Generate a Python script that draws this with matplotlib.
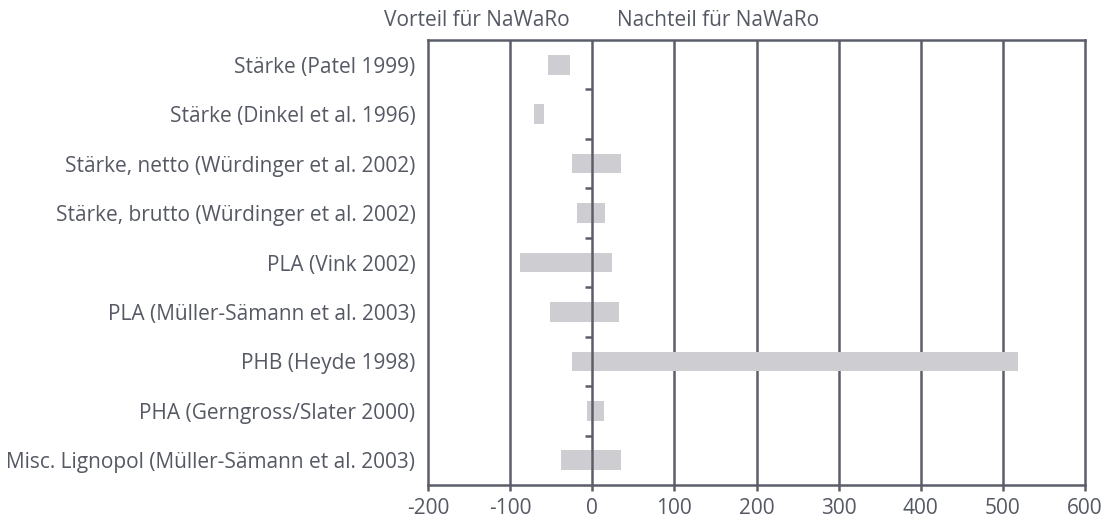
import matplotlib
matplotlib.use("Agg")
import matplotlib.pyplot as plt

categories = [
    "Stärke (Patel 1999)",
    "Stärke (Dinkel et al. 1996)",
    "Stärke, netto (Würdinger et al. 2002)",
    "Stärke, brutto (Würdinger et al. 2002)",
    "PLA (Vink 2002)",
    "PLA (Müller-Sämann et al. 2003)",
    "PHB (Heyde 1998)",
    "PHA (Gerngross/Slater 2000)",
    "Misc. Lignopol (Müller-Sämann et al. 2003)",
]
low = [-54, -71, -25, -18, -88, -51, -25, -7, -38]
high = [-27, -59, 35, 16, 24, 32, 519, 14, 35]
xticks = [-200, -100, 0, 100, 200, 300, 400, 500, 600]
header_left = "Vorteil für NaWaRo"
header_right = "Nachteil für NaWaRo"

LINE = "#5b5e69"
TEXT = "#555963"
BAR = "#cdcdd2"
FS = 15

plt.rcParams['font.family'] = ['Open Sans', 'DejaVu Sans']
fig = plt.figure(figsize=(11.11, 5.19), dpi=100)
ax = fig.add_axes([428/1111, 1-485/519, (1085-428)/1111, (485-40)/519])

n = len(categories)
ys = list(range(n))
widths = [h - l for l, h in zip(low, high)]
ax.barh(ys, widths, left=low, height=0.4, color=BAR, zorder=2)

ax.set_xlim(-200, 600)
ax.set_ylim(n - 0.5, -0.5)
ax.set_xticks(xticks)
ax.set_xticklabels([str(v) for v in xticks])
ax.set_yticks(ys)
ax.set_yticklabels(categories)
ax.tick_params(axis='y', length=0, pad=9, labelsize=FS, labelcolor=TEXT)
ax.tick_params(axis='x', length=4, width=1.8, color=LINE, pad=5, labelsize=FS, labelcolor=TEXT)

for v in xticks[1:-1]:
    ax.axvline(v, color=LINE, lw=1.8, zorder=1 if v != 0 else 3)
ax.hlines([i + 0.5 for i in range(n - 1)], -8.5, 0, color=LINE, lw=1.8, zorder=3)

for s in ax.spines.values():
    s.set_color(LINE)
    s.set_linewidth(1.8)

ax.text(-28, -0.68, header_left, ha='right', va='bottom', fontsize=FS, color=TEXT)
ax.text(30, -0.68, header_right, ha='left', va='bottom', fontsize=FS, color=TEXT)

fig.savefig("out.png", dpi=100)
